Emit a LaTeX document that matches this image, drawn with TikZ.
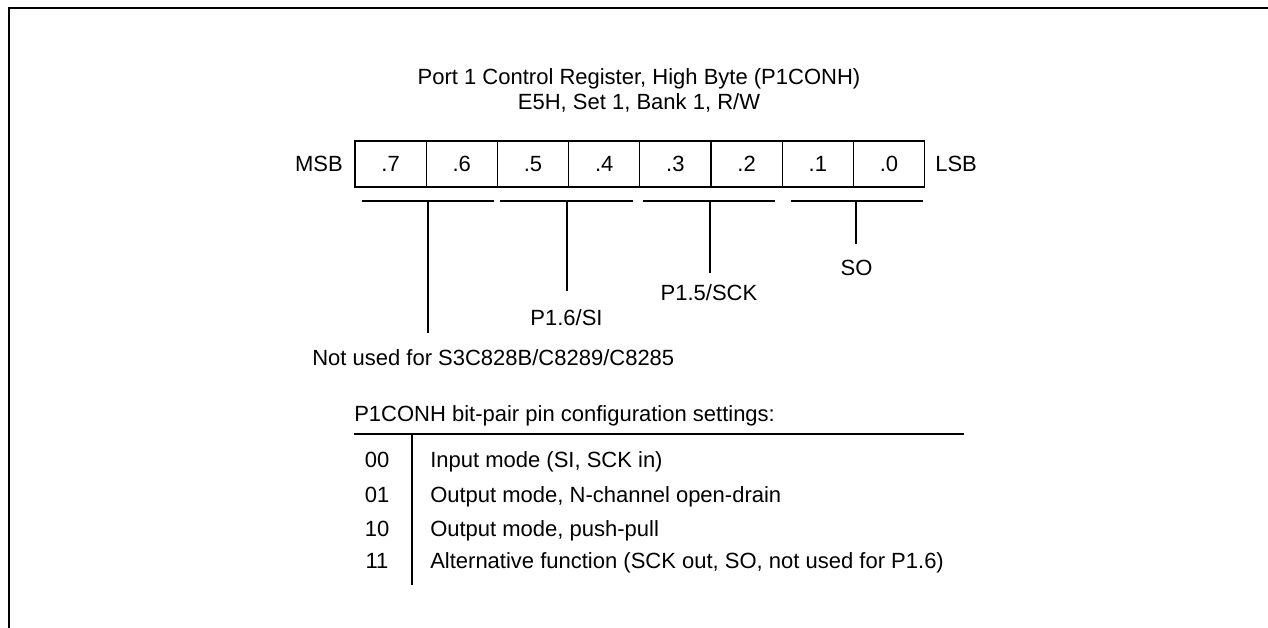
\documentclass[tikz,border=0pt]{standalone}
\usepackage{fontspec}
\setmainfont{Liberation Sans}
\begin{document}
\begin{tikzpicture}[x=0.75pt,y=-0.75pt,
  txt/.style={font=\fontsize{16.5}{19}\selectfont, inner sep=0pt},
  cell/.style={txt, draw, line width=1pt, minimum width=53.4pt, minimum height=34.5pt},
  thinline/.style={line width=1pt},
  frameline/.style={line width=1.5pt}]
\useasboundingbox (0,0) rectangle (1268,628);
% frame
\coordinate (ftr) at (1268,7.7);
\coordinate (ftl) at (9,7.7);
\coordinate (fbl) at (9,628);
\draw[frameline] (ftr) -- (ftl) -- (fbl);
% title
\node[txt, anchor=base] (t1) at (639,84.5) {Port 1 Control Register, High Byte (P1CONH)};
\node[txt, anchor=base] (t2) at (639,109) {E5H, Set 1, Bank 1, R/W};
% register cells
\foreach \i/\t in {0/.7,1/.6,2/.5,3/.4,4/.3,5/.2,6/.1,7/.0}
  \node[cell] (c\i) at ({390.6+71.2*\i},164) {\t};
\node[txt, anchor=east] (msb) at (343,164) {MSB};
\node[txt, anchor=west] (lsb) at (935,164) {LSB};
% brackets
\coordinate (a1) at (362,201); \coordinate (b1) at (494,201); \coordinate (s1) at (428,201); \coordinate (e1) at (428,333);
\coordinate (a2) at (500,201); \coordinate (b2) at (633,201); \coordinate (s2) at (567,201); \coordinate (e2) at (567,291);
\coordinate (a3) at (643,201); \coordinate (b3) at (775,201); \coordinate (s3) at (710,201); \coordinate (e3) at (710,273);
\coordinate (a4) at (791,201); \coordinate (b4) at (923,201); \coordinate (s4) at (856,201); \coordinate (e4) at (856,244);
\foreach \k in {1,2,3,4} {
  \draw[thinline] (a\k) -- (b\k);
  \draw[thinline] (s\k) -- (e\k);
}
% labels
\node[txt, anchor=base west] (nu) at (312,365) {Not used for S3C828B/C8289/C8285};
\node[txt, anchor=base] (p16) at (566.5,325) {P1.6/SI};
\node[txt, anchor=base] (p15) at (709,300) {P1.5/SCK};
\node[txt, anchor=base] (so) at (856.5,275) {SO};
% table
\node[txt, anchor=base west] (th) at (354,421) {P1CONH bit-pair pin configuration settings:};
\coordinate (rl) at (354,434); \coordinate (rr) at (964,434);
\coordinate (vt) at (412,434); \coordinate (vb) at (412,585);
\draw[thinline] (rl) -- (rr);
\draw[thinline] (vt) -- (vb);
\node[txt, anchor=base] (k0) at (377,467) {00};
\node[txt, anchor=base] (k1) at (377,502) {01};
\node[txt, anchor=base] (k2) at (377,536) {10};
\node[txt, anchor=base] (k3) at (377,568) {11};
\node[txt, anchor=base west] (d0) at (430,467) {Input mode (SI, SCK in)};
\node[txt, anchor=base west] (d1) at (430,502) {Output mode, N-channel open-drain};
\node[txt, anchor=base west] (d2) at (430,536) {Output mode, push-pull};
\node[txt, anchor=base west] (d3) at (430,568) {Alternative function (SCK out, SO, not used for P1.6)};
\end{tikzpicture}
\end{document}
